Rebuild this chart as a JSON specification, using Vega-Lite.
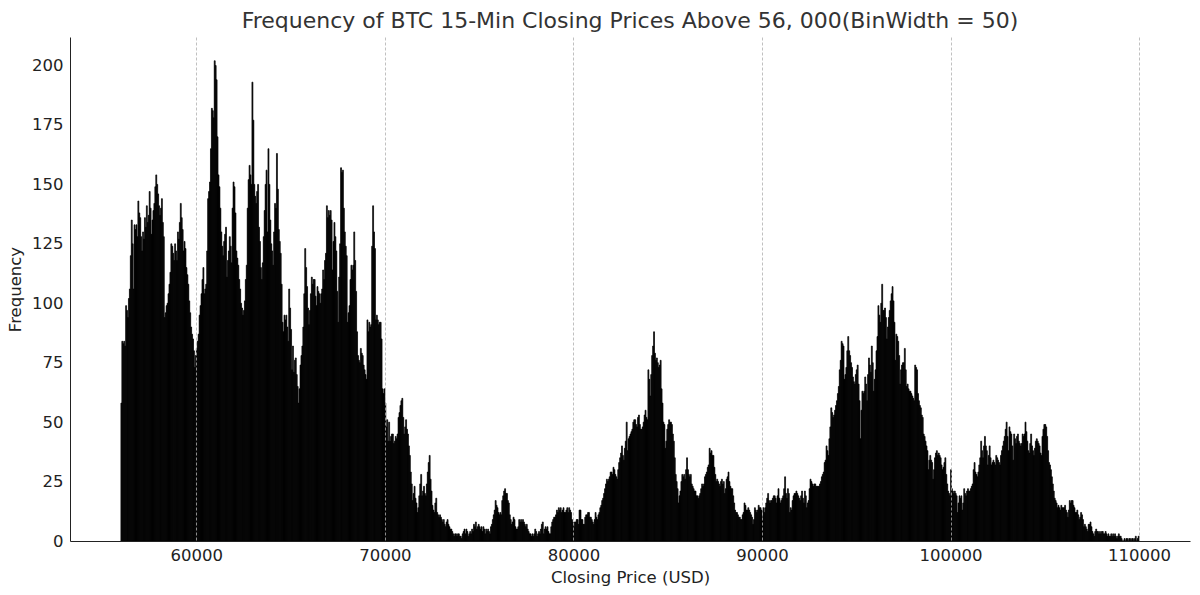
{
  "$schema": "https://vega.github.io/schema/vega-lite/v6.json",
  "width": 1120,
  "height": 504,
  "autosize": {"type": "none"},
  "padding": {"left": 70, "top": 37, "right": 10, "bottom": 54},
  "title": {
    "text": "Frequency of BTC 15-Min Closing Prices Above 56, 000(BinWidth = 50)",
    "font": "DejaVu Sans",
    "fontSize": 22,
    "fontWeight": "normal",
    "color": "#333333",
    "anchor": "middle",
    "baseline": "alphabetic",
    "offset": -13
  },
  "data": {"values": [
    {"p":56000,"n":58},{"p":56050,"n":84},{"p":56100,"n":83},{"p":56150,"n":84},{"p":56200,"n":82},{"p":56250,"n":99},{"p":56300,"n":97},{"p":56350,"n":94},{"p":56400,"n":102},{"p":56450,"n":106},{"p":56500,"n":120},{"p":56550,"n":135},{"p":56600,"n":125},{"p":56650,"n":106},{"p":56700,"n":133},{"p":56750,"n":131},{"p":56800,"n":133},{"p":56850,"n":128},{"p":56900,"n":143},{"p":56950,"n":138},
    {"p":57000,"n":136},{"p":57050,"n":128},{"p":57100,"n":122},{"p":57150,"n":130},{"p":57200,"n":127},{"p":57250,"n":136},{"p":57300,"n":132},{"p":57350,"n":141},{"p":57400,"n":134},{"p":57450,"n":137},{"p":57500,"n":147},{"p":57550,"n":140},{"p":57600,"n":129},{"p":57650,"n":135},{"p":57700,"n":139},{"p":57750,"n":142},{"p":57800,"n":149},{"p":57850,"n":154},{"p":57900,"n":150},{"p":57950,"n":146},
    {"p":58000,"n":141},{"p":58050,"n":137},{"p":58100,"n":140},{"p":58150,"n":144},{"p":58200,"n":134},{"p":58250,"n":128},{"p":58300,"n":94},{"p":58350,"n":96},{"p":58400,"n":99},{"p":58450,"n":100},{"p":58500,"n":104},{"p":58550,"n":108},{"p":58600,"n":113},{"p":58650,"n":125},{"p":58700,"n":124},{"p":58750,"n":121},{"p":58800,"n":118},{"p":58850,"n":125},{"p":58900,"n":122},{"p":58950,"n":118},
    {"p":59000,"n":130},{"p":59050,"n":127},{"p":59100,"n":134},{"p":59150,"n":142},{"p":59200,"n":136},{"p":59250,"n":131},{"p":59300,"n":122},{"p":59350,"n":126},{"p":59400,"n":123},{"p":59450,"n":115},{"p":59500,"n":112},{"p":59550,"n":108},{"p":59600,"n":101},{"p":59650,"n":96},{"p":59700,"n":90},{"p":59750,"n":87},{"p":59800,"n":85},{"p":59850,"n":80},{"p":59900,"n":73},{"p":59950,"n":78},
    {"p":60000,"n":81},{"p":60050,"n":84},{"p":60100,"n":87},{"p":60150,"n":95},{"p":60200,"n":99},{"p":60250,"n":104},{"p":60300,"n":110},{"p":60350,"n":115},{"p":60400,"n":104},{"p":60450,"n":106},{"p":60500,"n":108},{"p":60550,"n":122},{"p":60600,"n":144},{"p":60650,"n":147},{"p":60700,"n":151},{"p":60750,"n":165},{"p":60800,"n":182},{"p":60850,"n":181},{"p":60900,"n":178},{"p":60950,"n":202},
    {"p":61000,"n":200},{"p":61050,"n":194},{"p":61100,"n":170},{"p":61150,"n":154},{"p":61200,"n":149},{"p":61250,"n":140},{"p":61300,"n":130},{"p":61350,"n":124},{"p":61400,"n":120},{"p":61450,"n":126},{"p":61500,"n":129},{"p":61550,"n":132},{"p":61600,"n":111},{"p":61650,"n":118},{"p":61700,"n":122},{"p":61750,"n":128},{"p":61800,"n":124},{"p":61850,"n":117},{"p":61900,"n":140},{"p":61950,"n":151},
    {"p":62000,"n":149},{"p":62050,"n":138},{"p":62100,"n":122},{"p":62150,"n":119},{"p":62200,"n":116},{"p":62250,"n":110},{"p":62300,"n":106},{"p":62350,"n":100},{"p":62400,"n":98},{"p":62450,"n":95},{"p":62500,"n":97},{"p":62550,"n":101},{"p":62600,"n":110},{"p":62650,"n":116},{"p":62700,"n":140},{"p":62750,"n":152},{"p":62800,"n":158},{"p":62850,"n":154},{"p":62900,"n":150},{"p":62950,"n":193},
    {"p":63000,"n":177},{"p":63050,"n":150},{"p":63100,"n":145},{"p":63150,"n":142},{"p":63200,"n":147},{"p":63250,"n":150},{"p":63300,"n":132},{"p":63350,"n":126},{"p":63400,"n":115},{"p":63450,"n":110},{"p":63500,"n":117},{"p":63550,"n":128},{"p":63600,"n":139},{"p":63650,"n":150},{"p":63700,"n":156},{"p":63750,"n":130},{"p":63800,"n":165},{"p":63850,"n":150},{"p":63900,"n":135},{"p":63950,"n":125},
    {"p":64000,"n":122},{"p":64050,"n":116},{"p":64100,"n":130},{"p":64150,"n":142},{"p":64200,"n":140},{"p":64250,"n":163},{"p":64300,"n":148},{"p":64350,"n":131},{"p":64400,"n":126},{"p":64450,"n":121},{"p":64500,"n":108},{"p":64550,"n":92},{"p":64600,"n":88},{"p":64650,"n":95},{"p":64700,"n":93},{"p":64750,"n":95},{"p":64800,"n":90},{"p":64850,"n":84},{"p":64900,"n":106},{"p":64950,"n":98},
    {"p":65000,"n":89},{"p":65050,"n":72},{"p":65100,"n":82},{"p":65150,"n":71},{"p":65200,"n":76},{"p":65250,"n":77},{"p":65300,"n":70},{"p":65350,"n":65},{"p":65400,"n":58},{"p":65450,"n":64},{"p":65500,"n":74},{"p":65550,"n":78},{"p":65600,"n":82},{"p":65650,"n":90},{"p":65700,"n":104},{"p":65750,"n":123},{"p":65800,"n":115},{"p":65850,"n":107},{"p":65900,"n":98},{"p":65950,"n":91},
    {"p":66000,"n":97},{"p":66050,"n":104},{"p":66100,"n":111},{"p":66150,"n":108},{"p":66200,"n":110},{"p":66250,"n":110},{"p":66300,"n":103},{"p":66350,"n":99},{"p":66400,"n":107},{"p":66450,"n":105},{"p":66500,"n":104},{"p":66550,"n":100},{"p":66600,"n":104},{"p":66650,"n":106},{"p":66700,"n":114},{"p":66750,"n":110},{"p":66800,"n":118},{"p":66850,"n":121},{"p":66900,"n":141},{"p":66950,"n":136},
    {"p":67000,"n":139},{"p":67050,"n":137},{"p":67100,"n":139},{"p":67150,"n":135},{"p":67200,"n":114},{"p":67250,"n":126},{"p":67300,"n":134},{"p":67350,"n":128},{"p":67400,"n":122},{"p":67450,"n":105},{"p":67500,"n":92},{"p":67550,"n":111},{"p":67600,"n":125},{"p":67650,"n":157},{"p":67700,"n":155},{"p":67750,"n":156},{"p":67800,"n":140},{"p":67850,"n":130},{"p":67900,"n":124},{"p":67950,"n":120},
    {"p":68000,"n":92},{"p":68050,"n":96},{"p":68100,"n":99},{"p":68150,"n":110},{"p":68200,"n":116},{"p":68250,"n":114},{"p":68300,"n":116},{"p":68350,"n":130},{"p":68400,"n":118},{"p":68450,"n":105},{"p":68500,"n":88},{"p":68550,"n":78},{"p":68600,"n":76},{"p":68650,"n":75},{"p":68700,"n":81},{"p":68750,"n":79},{"p":68800,"n":78},{"p":68850,"n":74},{"p":68900,"n":72},{"p":68950,"n":70},
    {"p":69000,"n":68},{"p":69050,"n":93},{"p":69100,"n":88},{"p":69150,"n":92},{"p":69200,"n":90},{"p":69250,"n":91},{"p":69300,"n":124},{"p":69350,"n":141},{"p":69400,"n":130},{"p":69450,"n":123},{"p":69500,"n":93},{"p":69550,"n":95},{"p":69600,"n":93},{"p":69650,"n":91},{"p":69700,"n":92},{"p":69750,"n":92},{"p":69800,"n":85},{"p":69850,"n":64},{"p":69900,"n":62},{"p":69950,"n":64},
    {"p":70000,"n":58},{"p":70050,"n":48},{"p":70100,"n":51},{"p":70150,"n":42},{"p":70200,"n":50},{"p":70250,"n":42},{"p":70300,"n":44},{"p":70350,"n":45},{"p":70400,"n":45},{"p":70450,"n":41},{"p":70500,"n":42},{"p":70550,"n":44},{"p":70600,"n":43},{"p":70650,"n":45},{"p":70700,"n":52},{"p":70750,"n":54},{"p":70800,"n":57},{"p":70850,"n":59},{"p":70900,"n":60},{"p":70950,"n":52},
    {"p":71000,"n":45},{"p":71050,"n":48},{"p":71100,"n":51},{"p":71150,"n":47},{"p":71200,"n":45},{"p":71250,"n":40},{"p":71300,"n":36},{"p":71350,"n":29},{"p":71400,"n":24},{"p":71450,"n":17},{"p":71500,"n":20},{"p":71550,"n":23},{"p":71600,"n":18},{"p":71650,"n":16},{"p":71700,"n":12},{"p":71750,"n":14},{"p":71800,"n":19},{"p":71850,"n":24},{"p":71900,"n":28},{"p":71950,"n":19},
    {"p":72000,"n":21},{"p":72050,"n":23},{"p":72100,"n":20},{"p":72150,"n":19},{"p":72200,"n":24},{"p":72250,"n":29},{"p":72300,"n":33},{"p":72350,"n":36},{"p":72400,"n":26},{"p":72450,"n":21},{"p":72500,"n":15},{"p":72550,"n":13},{"p":72600,"n":12},{"p":72650,"n":16},{"p":72700,"n":18},{"p":72750,"n":12},{"p":72800,"n":11},{"p":72850,"n":10},{"p":72900,"n":11},{"p":72950,"n":10},
    {"p":73000,"n":9},{"p":73050,"n":8},{"p":73100,"n":9},{"p":73150,"n":7},{"p":73200,"n":6},{"p":73250,"n":8},{"p":73300,"n":9},{"p":73350,"n":7},{"p":73400,"n":6},{"p":73450,"n":5},{"p":73500,"n":5},{"p":73550,"n":4},{"p":73600,"n":3},{"p":73650,"n":2},{"p":73700,"n":3},{"p":73750,"n":3},{"p":73800,"n":2},{"p":73850,"n":3},{"p":73900,"n":3},{"p":73950,"n":2},
    {"p":74000,"n":2},{"p":74050,"n":1},{"p":74100,"n":3},{"p":74150,"n":4},{"p":74200,"n":5},{"p":74250,"n":3},{"p":74300,"n":5},{"p":74350,"n":4},{"p":74400,"n":2},{"p":74450,"n":3},{"p":74500,"n":4},{"p":74550,"n":3},{"p":74600,"n":5},{"p":74650,"n":4},{"p":74700,"n":7},{"p":74750,"n":6},{"p":74800,"n":8},{"p":74850,"n":5},{"p":74900,"n":6},{"p":74950,"n":7},
    {"p":75000,"n":6},{"p":75050,"n":5},{"p":75100,"n":6},{"p":75150,"n":4},{"p":75200,"n":6},{"p":75250,"n":5},{"p":75300,"n":3},{"p":75350,"n":5},{"p":75400,"n":4},{"p":75450,"n":5},{"p":75500,"n":4},{"p":75550,"n":3},{"p":75600,"n":6},{"p":75650,"n":7},{"p":75700,"n":9},{"p":75750,"n":11},{"p":75800,"n":13},{"p":75850,"n":17},{"p":75900,"n":15},{"p":75950,"n":14},
    {"p":76000,"n":12},{"p":76050,"n":11},{"p":76100,"n":12},{"p":76150,"n":11},{"p":76200,"n":17},{"p":76250,"n":19},{"p":76300,"n":21},{"p":76350,"n":22},{"p":76400,"n":20},{"p":76450,"n":20},{"p":76500,"n":17},{"p":76550,"n":16},{"p":76600,"n":11},{"p":76650,"n":9},{"p":76700,"n":7},{"p":76750,"n":8},{"p":76800,"n":10},{"p":76850,"n":9},{"p":76900,"n":6},{"p":76950,"n":5},
    {"p":77000,"n":5},{"p":77050,"n":6},{"p":77100,"n":9},{"p":77150,"n":8},{"p":77200,"n":9},{"p":77250,"n":8},{"p":77300,"n":9},{"p":77350,"n":8},{"p":77400,"n":7},{"p":77450,"n":6},{"p":77500,"n":7},{"p":77550,"n":5},{"p":77600,"n":4},{"p":77650,"n":3},{"p":77700,"n":3},{"p":77750,"n":2},{"p":77800,"n":3},{"p":77850,"n":2},{"p":77900,"n":3},{"p":77950,"n":5},
    {"p":78000,"n":4},{"p":78050,"n":2},{"p":78100,"n":3},{"p":78150,"n":4},{"p":78200,"n":3},{"p":78250,"n":5},{"p":78300,"n":7},{"p":78350,"n":8},{"p":78400,"n":3},{"p":78450,"n":5},{"p":78500,"n":6},{"p":78550,"n":5},{"p":78600,"n":6},{"p":78650,"n":4},{"p":78700,"n":3},{"p":78750,"n":3},{"p":78800,"n":6},{"p":78850,"n":8},{"p":78900,"n":9},{"p":78950,"n":10},
    {"p":79000,"n":10},{"p":79050,"n":11},{"p":79100,"n":13},{"p":79150,"n":12},{"p":79200,"n":14},{"p":79250,"n":13},{"p":79300,"n":14},{"p":79350,"n":12},{"p":79400,"n":13},{"p":79450,"n":14},{"p":79500,"n":12},{"p":79550,"n":12},{"p":79600,"n":13},{"p":79650,"n":14},{"p":79700,"n":12},{"p":79750,"n":14},{"p":79800,"n":13},{"p":79850,"n":12},{"p":79900,"n":9},{"p":79950,"n":8},
    {"p":80000,"n":6},{"p":80050,"n":8},{"p":80100,"n":8},{"p":80150,"n":9},{"p":80200,"n":9},{"p":80250,"n":7},{"p":80300,"n":13},{"p":80350,"n":13},{"p":80400,"n":9},{"p":80450,"n":9},{"p":80500,"n":7},{"p":80550,"n":7},{"p":80600,"n":10},{"p":80650,"n":11},{"p":80700,"n":11},{"p":80750,"n":12},{"p":80800,"n":12},{"p":80850,"n":10},{"p":80900,"n":10},{"p":80950,"n":9},
    {"p":81000,"n":8},{"p":81050,"n":7},{"p":81100,"n":9},{"p":81150,"n":12},{"p":81200,"n":10},{"p":81250,"n":9},{"p":81300,"n":11},{"p":81350,"n":12},{"p":81400,"n":14},{"p":81450,"n":15},{"p":81500,"n":17},{"p":81550,"n":18},{"p":81600,"n":20},{"p":81650,"n":22},{"p":81700,"n":24},{"p":81750,"n":26},{"p":81800,"n":25},{"p":81850,"n":26},{"p":81900,"n":27},{"p":81950,"n":29},
    {"p":82000,"n":29},{"p":82050,"n":28},{"p":82100,"n":31},{"p":82150,"n":30},{"p":82200,"n":28},{"p":82250,"n":27},{"p":82300,"n":26},{"p":82350,"n":30},{"p":82400,"n":33},{"p":82450,"n":35},{"p":82500,"n":37},{"p":82550,"n":40},{"p":82600,"n":36},{"p":82650,"n":34},{"p":82700,"n":39},{"p":82750,"n":42},{"p":82800,"n":50},{"p":82850,"n":38},{"p":82900,"n":43},{"p":82950,"n":44},
    {"p":83000,"n":45},{"p":83050,"n":46},{"p":83100,"n":47},{"p":83150,"n":50},{"p":83200,"n":51},{"p":83250,"n":51},{"p":83300,"n":49},{"p":83350,"n":48},{"p":83400,"n":52},{"p":83450,"n":53},{"p":83500,"n":49},{"p":83550,"n":47},{"p":83600,"n":47},{"p":83650,"n":48},{"p":83700,"n":50},{"p":83750,"n":53},{"p":83800,"n":55},{"p":83850,"n":52},{"p":83900,"n":51},{"p":83950,"n":72},
    {"p":84000,"n":68},{"p":84050,"n":61},{"p":84100,"n":70},{"p":84150,"n":78},{"p":84200,"n":82},{"p":84250,"n":88},{"p":84300,"n":79},{"p":84350,"n":76},{"p":84400,"n":77},{"p":84450,"n":75},{"p":84500,"n":73},{"p":84550,"n":74},{"p":84600,"n":76},{"p":84650,"n":64},{"p":84700,"n":58},{"p":84750,"n":50},{"p":84800,"n":49},{"p":84850,"n":39},{"p":84900,"n":42},{"p":84950,"n":47},
    {"p":85000,"n":49},{"p":85050,"n":51},{"p":85100,"n":50},{"p":85150,"n":50},{"p":85200,"n":49},{"p":85250,"n":45},{"p":85300,"n":42},{"p":85350,"n":35},{"p":85400,"n":28},{"p":85450,"n":25},{"p":85500,"n":22},{"p":85550,"n":16},{"p":85600,"n":19},{"p":85650,"n":21},{"p":85700,"n":25},{"p":85750,"n":28},{"p":85800,"n":27},{"p":85850,"n":28},{"p":85900,"n":26},{"p":85950,"n":30},
    {"p":86000,"n":35},{"p":86050,"n":30},{"p":86100,"n":28},{"p":86150,"n":27},{"p":86200,"n":28},{"p":86250,"n":24},{"p":86300,"n":23},{"p":86350,"n":22},{"p":86400,"n":21},{"p":86450,"n":21},{"p":86500,"n":19},{"p":86550,"n":19},{"p":86600,"n":18},{"p":86650,"n":19},{"p":86700,"n":20},{"p":86750,"n":22},{"p":86800,"n":24},{"p":86850,"n":23},{"p":86900,"n":24},{"p":86950,"n":27},
    {"p":87000,"n":28},{"p":87050,"n":29},{"p":87100,"n":31},{"p":87150,"n":32},{"p":87200,"n":39},{"p":87250,"n":37},{"p":87300,"n":38},{"p":87350,"n":36},{"p":87400,"n":36},{"p":87450,"n":31},{"p":87500,"n":28},{"p":87550,"n":25},{"p":87600,"n":26},{"p":87650,"n":25},{"p":87700,"n":24},{"p":87750,"n":23},{"p":87800,"n":25},{"p":87850,"n":26},{"p":87900,"n":24},{"p":87950,"n":25},
    {"p":88000,"n":20},{"p":88050,"n":22},{"p":88100,"n":26},{"p":88150,"n":27},{"p":88200,"n":29},{"p":88250,"n":25},{"p":88300,"n":23},{"p":88350,"n":22},{"p":88400,"n":22},{"p":88450,"n":19},{"p":88500,"n":16},{"p":88550,"n":13},{"p":88600,"n":12},{"p":88650,"n":12},{"p":88700,"n":11},{"p":88750,"n":10},{"p":88800,"n":10},{"p":88850,"n":9},{"p":88900,"n":9},{"p":88950,"n":11},
    {"p":89000,"n":12},{"p":89050,"n":16},{"p":89100,"n":15},{"p":89150,"n":13},{"p":89200,"n":13},{"p":89250,"n":14},{"p":89300,"n":13},{"p":89350,"n":12},{"p":89400,"n":11},{"p":89450,"n":10},{"p":89500,"n":7},{"p":89550,"n":9},{"p":89600,"n":14},{"p":89650,"n":13},{"p":89700,"n":12},{"p":89750,"n":13},{"p":89800,"n":15},{"p":89850,"n":14},{"p":89900,"n":14},{"p":89950,"n":13},
    {"p":90000,"n":10},{"p":90050,"n":14},{"p":90100,"n":12},{"p":90150,"n":14},{"p":90200,"n":16},{"p":90250,"n":18},{"p":90300,"n":20},{"p":90350,"n":17},{"p":90400,"n":16},{"p":90450,"n":17},{"p":90500,"n":17},{"p":90550,"n":18},{"p":90600,"n":19},{"p":90650,"n":19},{"p":90700,"n":18},{"p":90750,"n":16},{"p":90800,"n":19},{"p":90850,"n":22},{"p":90900,"n":18},{"p":90950,"n":16},
    {"p":91000,"n":17},{"p":91050,"n":18},{"p":91100,"n":19},{"p":91150,"n":22},{"p":91200,"n":27},{"p":91250,"n":20},{"p":91300,"n":18},{"p":91350,"n":22},{"p":91400,"n":20},{"p":91450,"n":12},{"p":91500,"n":14},{"p":91550,"n":13},{"p":91600,"n":17},{"p":91650,"n":19},{"p":91700,"n":20},{"p":91750,"n":20},{"p":91800,"n":21},{"p":91850,"n":20},{"p":91900,"n":19},{"p":91950,"n":18},
    {"p":92000,"n":17},{"p":92050,"n":19},{"p":92100,"n":21},{"p":92150,"n":18},{"p":92200,"n":16},{"p":92250,"n":21},{"p":92300,"n":19},{"p":92350,"n":14},{"p":92400,"n":16},{"p":92450,"n":17},{"p":92500,"n":22},{"p":92550,"n":26},{"p":92600,"n":25},{"p":92650,"n":24},{"p":92700,"n":23},{"p":92750,"n":24},{"p":92800,"n":24},{"p":92850,"n":23},{"p":92900,"n":23},{"p":92950,"n":23},
    {"p":93000,"n":23},{"p":93050,"n":24},{"p":93100,"n":25},{"p":93150,"n":27},{"p":93200,"n":28},{"p":93250,"n":29},{"p":93300,"n":33},{"p":93350,"n":34},{"p":93400,"n":40},{"p":93450,"n":38},{"p":93500,"n":36},{"p":93550,"n":43},{"p":93600,"n":48},{"p":93650,"n":56},{"p":93700,"n":54},{"p":93750,"n":52},{"p":93800,"n":53},{"p":93850,"n":55},{"p":93900,"n":57},{"p":93950,"n":59},
    {"p":94000,"n":62},{"p":94050,"n":65},{"p":94100,"n":72},{"p":94150,"n":76},{"p":94200,"n":84},{"p":94250,"n":83},{"p":94300,"n":82},{"p":94350,"n":68},{"p":94400,"n":70},{"p":94450,"n":73},{"p":94500,"n":80},{"p":94550,"n":86},{"p":94600,"n":80},{"p":94650,"n":78},{"p":94700,"n":75},{"p":94750,"n":73},{"p":94800,"n":69},{"p":94850,"n":67},{"p":94900,"n":66},{"p":94950,"n":70},
    {"p":95000,"n":72},{"p":95050,"n":74},{"p":95100,"n":66},{"p":95150,"n":59},{"p":95200,"n":43},{"p":95250,"n":55},{"p":95300,"n":63},{"p":95350,"n":62},{"p":95400,"n":63},{"p":95450,"n":69},{"p":95500,"n":66},{"p":95550,"n":59},{"p":95600,"n":70},{"p":95650,"n":77},{"p":95700,"n":74},{"p":95750,"n":71},{"p":95800,"n":82},{"p":95850,"n":75},{"p":95900,"n":63},{"p":95950,"n":68},
    {"p":96000,"n":72},{"p":96050,"n":80},{"p":96100,"n":86},{"p":96150,"n":99},{"p":96200,"n":95},{"p":96250,"n":92},{"p":96300,"n":100},{"p":96350,"n":108},{"p":96400,"n":97},{"p":96450,"n":97},{"p":96500,"n":98},{"p":96550,"n":94},{"p":96600,"n":85},{"p":96650,"n":90},{"p":96700,"n":94},{"p":96750,"n":97},{"p":96800,"n":101},{"p":96850,"n":104},{"p":96900,"n":107},{"p":96950,"n":101},
    {"p":97000,"n":92},{"p":97050,"n":76},{"p":97100,"n":87},{"p":97150,"n":86},{"p":97200,"n":84},{"p":97250,"n":78},{"p":97300,"n":66},{"p":97350,"n":72},{"p":97400,"n":74},{"p":97450,"n":75},{"p":97500,"n":75},{"p":97550,"n":81},{"p":97600,"n":72},{"p":97650,"n":65},{"p":97700,"n":66},{"p":97750,"n":64},{"p":97800,"n":63},{"p":97850,"n":63},{"p":97900,"n":62},{"p":97950,"n":61},
    {"p":98000,"n":60},{"p":98050,"n":59},{"p":98100,"n":74},{"p":98150,"n":73},{"p":98200,"n":72},{"p":98250,"n":62},{"p":98300,"n":59},{"p":98350,"n":57},{"p":98400,"n":56},{"p":98450,"n":53},{"p":98500,"n":52},{"p":98550,"n":45},{"p":98600,"n":44},{"p":98650,"n":42},{"p":98700,"n":40},{"p":98750,"n":38},{"p":98800,"n":30},{"p":98850,"n":34},{"p":98900,"n":36},{"p":98950,"n":34},
    {"p":99000,"n":33},{"p":99050,"n":26},{"p":99100,"n":30},{"p":99150,"n":35},{"p":99200,"n":37},{"p":99250,"n":38},{"p":99300,"n":36},{"p":99350,"n":37},{"p":99400,"n":36},{"p":99450,"n":35},{"p":99500,"n":32},{"p":99550,"n":30},{"p":99600,"n":31},{"p":99650,"n":33},{"p":99700,"n":35},{"p":99750,"n":28},{"p":99800,"n":24},{"p":99850,"n":21},{"p":99900,"n":20},{"p":99950,"n":19},
    {"p":100000,"n":30},{"p":100050,"n":22},{"p":100100,"n":21},{"p":100150,"n":20},{"p":100200,"n":21},{"p":100250,"n":20},{"p":100300,"n":19},{"p":100350,"n":12},{"p":100400,"n":16},{"p":100450,"n":19},{"p":100500,"n":18},{"p":100550,"n":19},{"p":100600,"n":13},{"p":100650,"n":16},{"p":100700,"n":22},{"p":100750,"n":20},{"p":100800,"n":19},{"p":100850,"n":21},{"p":100900,"n":22},{"p":100950,"n":21},
    {"p":101000,"n":21},{"p":101050,"n":22},{"p":101100,"n":23},{"p":101150,"n":24},{"p":101200,"n":30},{"p":101250,"n":33},{"p":101300,"n":29},{"p":101350,"n":28},{"p":101400,"n":27},{"p":101450,"n":29},{"p":101500,"n":32},{"p":101550,"n":35},{"p":101600,"n":42},{"p":101650,"n":38},{"p":101700,"n":35},{"p":101750,"n":40},{"p":101800,"n":44},{"p":101850,"n":40},{"p":101900,"n":38},{"p":101950,"n":32},
    {"p":102000,"n":36},{"p":102050,"n":40},{"p":102100,"n":35},{"p":102150,"n":32},{"p":102200,"n":33},{"p":102250,"n":34},{"p":102300,"n":33},{"p":102350,"n":32},{"p":102400,"n":36},{"p":102450,"n":35},{"p":102500,"n":34},{"p":102550,"n":33},{"p":102600,"n":32},{"p":102650,"n":36},{"p":102700,"n":38},{"p":102750,"n":40},{"p":102800,"n":42},{"p":102850,"n":44},{"p":102900,"n":47},{"p":102950,"n":50},
    {"p":103000,"n":44},{"p":103050,"n":38},{"p":103100,"n":48},{"p":103150,"n":46},{"p":103200,"n":45},{"p":103250,"n":40},{"p":103300,"n":34},{"p":103350,"n":45},{"p":103400,"n":43},{"p":103450,"n":41},{"p":103500,"n":44},{"p":103550,"n":45},{"p":103600,"n":42},{"p":103650,"n":41},{"p":103700,"n":40},{"p":103750,"n":41},{"p":103800,"n":45},{"p":103850,"n":44},{"p":103900,"n":45},{"p":103950,"n":50},
    {"p":104000,"n":46},{"p":104050,"n":42},{"p":104100,"n":38},{"p":104150,"n":37},{"p":104200,"n":41},{"p":104250,"n":45},{"p":104300,"n":40},{"p":104350,"n":38},{"p":104400,"n":36},{"p":104450,"n":39},{"p":104500,"n":42},{"p":104550,"n":43},{"p":104600,"n":42},{"p":104650,"n":41},{"p":104700,"n":40},{"p":104750,"n":37},{"p":104800,"n":36},{"p":104850,"n":44},{"p":104900,"n":47},{"p":104950,"n":49},
    {"p":105000,"n":49},{"p":105050,"n":48},{"p":105100,"n":44},{"p":105150,"n":38},{"p":105200,"n":33},{"p":105250,"n":32},{"p":105300,"n":30},{"p":105350,"n":27},{"p":105400,"n":24},{"p":105450,"n":21},{"p":105500,"n":18},{"p":105550,"n":17},{"p":105600,"n":16},{"p":105650,"n":14},{"p":105700,"n":15},{"p":105750,"n":14},{"p":105800,"n":13},{"p":105850,"n":15},{"p":105900,"n":14},{"p":105950,"n":14},
    {"p":106000,"n":14},{"p":106050,"n":15},{"p":106100,"n":13},{"p":106150,"n":12},{"p":106200,"n":10},{"p":106250,"n":13},{"p":106300,"n":17},{"p":106350,"n":16},{"p":106400,"n":17},{"p":106450,"n":17},{"p":106500,"n":15},{"p":106550,"n":14},{"p":106600,"n":12},{"p":106650,"n":12},{"p":106700,"n":13},{"p":106750,"n":11},{"p":106800,"n":9},{"p":106850,"n":10},{"p":106900,"n":12},{"p":106950,"n":11},
    {"p":107000,"n":9},{"p":107050,"n":6},{"p":107100,"n":7},{"p":107150,"n":6},{"p":107200,"n":5},{"p":107250,"n":4},{"p":107300,"n":7},{"p":107350,"n":7},{"p":107400,"n":8},{"p":107450,"n":6},{"p":107500,"n":4},{"p":107550,"n":3},{"p":107600,"n":2},{"p":107650,"n":4},{"p":107700,"n":5},{"p":107750,"n":4},{"p":107800,"n":4},{"p":107850,"n":3},{"p":107900,"n":4},{"p":107950,"n":3},
    {"p":108000,"n":4},{"p":108050,"n":4},{"p":108100,"n":3},{"p":108150,"n":3},{"p":108200,"n":4},{"p":108250,"n":3},{"p":108300,"n":2},{"p":108350,"n":3},{"p":108400,"n":2},{"p":108450,"n":2},{"p":108500,"n":3},{"p":108550,"n":2},{"p":108600,"n":3},{"p":108650,"n":2},{"p":108700,"n":3},{"p":108750,"n":2},{"p":108800,"n":1},{"p":108850,"n":2},{"p":108900,"n":3},{"p":108950,"n":2},
    {"p":109000,"n":2},{"p":109050,"n":1},{"p":109100,"n":0},{"p":109150,"n":0},{"p":109200,"n":1},{"p":109250,"n":0},{"p":109300,"n":1},{"p":109350,"n":1},{"p":109400,"n":0},{"p":109450,"n":1},{"p":109500,"n":1},{"p":109550,"n":0},{"p":109600,"n":1},{"p":109650,"n":1},{"p":109700,"n":0},{"p":109750,"n":1},{"p":109800,"n":2},{"p":109850,"n":0},{"p":109900,"n":1},{"p":109950,"n":2}
  ]},
  "transform": [
    {"bin": {"step": 50, "extent": [56000, 110000], "nice": false}, "field": "p", "as": ["p0", "p1"]}
  ],
  "mark": {"type": "rect", "color": "black", "stroke": "black", "strokeWidth": 0.7},
  "encoding": {
    "x": {
      "field": "p0",
      "type": "quantitative",
      "title": "Closing Price (USD)",
      "scale": {"domain": [53300, 112700], "nice": false, "zero": false},
      "axis": {
        "values": [60000, 70000, 80000, 90000, 100000, 110000],
        "format": "d",
        "grid": true,
        "gridDash": [3, 2],
        "gridColor": "#b0b0b0",
        "gridWidth": 0.8,
        "zindex": 1,
        "labelPadding": 6,
        "titlePadding": 6
      }
    },
    "x2": {"field": "p1"},
    "y": {
      "field": "n",
      "type": "quantitative",
      "title": "Frequency",
      "scale": {"domain": [0, 212], "nice": false},
      "axis": {
        "values": [0, 25, 50, 75, 100, 125, 150, 175, 200],
        "grid": false,
        "labelPadding": 7,
        "titlePadding": 8
      }
    },
    "y2": {"datum": 0}
  },
  "config": {
    "view": {"stroke": null},
    "axis": {
      "ticks": false,
      "domainColor": "#222222",
      "domainWidth": 1,
      "labelFont": "DejaVu Sans",
      "labelFontSize": 16.5,
      "labelColor": "#222222",
      "titleFont": "DejaVu Sans",
      "titleFontSize": 16.5,
      "titleFontWeight": "normal",
      "titleColor": "#222222"
    }
  }
}
